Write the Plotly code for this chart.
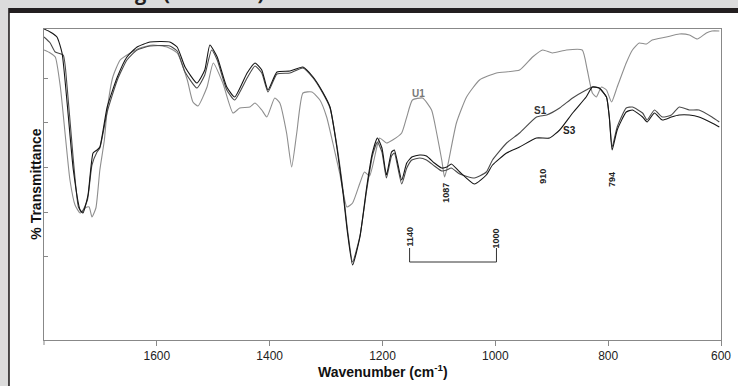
import plotly.graph_objects as go

# ---- data (wavenumber cm-1, transmittance in arbitrary units) ----
s3_wn = [1800, 1789, 1777, 1768, 1759, 1748, 1736, 1731, 1722, 1713, 1706, 1701, 1688, 1670, 1653, 1635,
         1612, 1577, 1564, 1550, 1529, 1515, 1506, 1493, 1476, 1462, 1440, 1426, 1414, 1403, 1387, 1364,
         1341, 1323, 1306, 1293, 1281, 1270, 1262, 1253, 1240, 1228, 1218, 1209, 1201, 1193, 1184, 1179,
         1166, 1157, 1148, 1134, 1122, 1108, 1095, 1086, 1078, 1063, 1037, 1016, 1005, 980, 957, 927,
         904, 886, 863, 839, 828, 816, 803, 798, 793, 784, 768, 757, 739, 731, 718, 704, 688, 674, 656,
         639, 616, 603]
s3_t = [311, 308, 303, 287, 237, 170, 130, 127, 145, 187, 190, 193, 233, 263, 283, 293,
        298, 298, 293, 273, 257, 270, 295, 283, 253, 243, 267, 277, 270, 250, 268, 269,
        273, 263, 248, 233, 193, 147, 107, 75, 103, 153, 187, 202, 192, 165, 188, 190,
        160, 177, 183, 185, 184, 177, 172, 173, 176, 168, 156, 165, 175, 187, 193, 202,
        202, 210, 227, 243, 253, 252, 243, 223, 190, 210, 228, 230, 223, 218, 227, 220, 223, 225, 225,
        223, 217, 213]

s1_wn = [1800, 1789, 1780, 1766, 1759, 1748, 1739, 1733, 1723, 1715, 1706, 1701, 1688, 1670, 1653, 1635,
         1612, 1577, 1564, 1550, 1529, 1515, 1503, 1493, 1476, 1462, 1440, 1426, 1414, 1403, 1387, 1364,
         1341, 1323, 1306, 1293, 1281, 1270, 1262, 1253, 1240, 1228, 1218, 1209, 1201, 1193, 1184, 1179,
         1166, 1157, 1148, 1134, 1122, 1108, 1095, 1086, 1078, 1063, 1037, 1016, 1005, 980, 957, 927,
         909, 886, 863, 839, 828, 816, 803, 798, 793, 784, 768, 757, 739, 731, 718, 704, 688, 674, 656,
         639, 616, 603]
s1_t = [303, 297, 288, 285, 253, 180, 133, 128, 140, 175, 188, 192, 228, 260, 280, 290,
        294, 294, 289, 268, 252, 265, 290, 280, 250, 240, 262, 274, 267, 248, 266, 267,
        272, 262, 247, 232, 195, 150, 110, 78, 104, 150, 184, 198, 188, 162, 184, 187,
        156, 172, 180, 182, 180, 174, 169, 170, 172, 166, 162, 168, 180, 197, 207, 223,
        225, 232, 242, 250, 253, 252, 243, 223, 193, 213, 232, 233, 227, 220, 230, 223, 225, 233, 230,
        230, 223, 218]

u1_wn = [1800, 1789, 1780, 1771, 1762, 1754, 1745, 1736, 1727, 1720, 1715, 1708, 1701, 1693, 1688, 1678,
         1665, 1647, 1630, 1607, 1582, 1564, 1546, 1536, 1527, 1511, 1500, 1483, 1465, 1453, 1435, 1426,
         1414, 1405, 1391, 1382, 1370, 1361, 1352, 1341, 1325, 1311, 1299, 1288, 1276, 1263, 1253, 1240,
         1232, 1223, 1210, 1205, 1193, 1182, 1166, 1157, 1147, 1129, 1113, 1104, 1095, 1090, 1085, 1069,
         1051, 1028, 998, 957, 934, 916, 899, 874, 846, 837, 828, 821, 812, 803, 794, 784, 768, 757,
         745, 732, 722, 697, 674, 656, 642, 626, 616, 603]
u1_t = [290, 287, 283, 253, 203, 160, 135, 127, 132, 133, 123, 132, 170, 200, 230, 263,
        280, 287, 292, 295, 293, 287, 260, 238, 234, 253, 277, 257, 227, 232, 233, 237,
        230, 223, 242, 237, 207, 173, 207, 247, 248, 240, 223, 197, 167, 133, 137, 157,
        168, 164, 193, 202, 197, 200, 207, 223, 240, 242, 230, 207, 180, 163, 173, 217,
        243, 260, 267, 270, 283, 290, 287, 290, 290, 270, 247, 243, 253, 250, 238, 253, 277, 290,
        297, 296, 300, 303, 306, 305, 301, 307, 309, 309]

x_ticks = [1600, 1400, 1200, 1000, 800, 600]
x_ticktext = ["1600", "1400", "1200", "1000", "800", "600"]

# ---------------------------------------------------------------------------------------
fig = go.Figure()
for wn, t, color, name in [(u1_wn, u1_t, "#8e8e8e", "U1"),
                           (s1_wn, s1_t, "#4a4a4a", "S1"),
                           (s3_wn, s3_t, "#151515", "S3")]:
    fig.add_trace(go.Scatter(x=wn, y=t, mode="lines", name=name, showlegend=False,
                             hoverinfo="skip",
                             line=dict(color=color, width=1.1, shape="spline", smoothing=0.5)))

axis_font = dict(family="Liberation Sans, Arial, sans-serif", size=12, color="#222")

fig.update_layout(
    width=738, height=386,
    margin=dict(l=44, r=17, t=29, b=46, autoexpand=False),
    paper_bgcolor="#dcdcdc",
    plot_bgcolor="white",
    font=axis_font,
    xaxis=dict(range=[1800, 600], tickvals=x_ticks, ticktext=x_ticktext, automargin=False,
               ticks="outside", ticklen=5, tickcolor="#888", tickwidth=1,
               showline=True, linecolor="#888", linewidth=1, mirror=True,
               showgrid=False, zeroline=False, tickfont=axis_font),
    yaxis=dict(range=[0, 311], tickvals=[84, 128, 173, 218, 262], automargin=False,
               ticks="inside", ticklen=4, tickcolor="#888",
               showticklabels=False, showline=True, linecolor="#888", linewidth=1,
               mirror=True, showgrid=False, zeroline=False),
)

# page panel (white card with dark top band and left edge)
fig.add_shape(type="rect", xref="paper", yref="paper", x0=-0.0506, x1=1.1, y0=-0.2, y1=1.0514,
              fillcolor="white", line_width=0, layer="below")
fig.add_shape(type="rect", xref="paper", yref="paper", x0=-0.0529, x1=1.1, y0=1.0514, y1=1.0675,
              fillcolor="#231f20", line_width=0, layer="below")
fig.add_shape(type="rect", xref="paper", yref="paper", x0=-0.0529, x1=-0.0506, y0=-0.2, y1=1.0514,
              fillcolor="#231f20", line_width=0, layer="below")
# end tick at 1800 (left edge of the axis)
fig.add_shape(type="line", xref="paper", yref="paper", x0=0, x1=0, y0=0, y1=-0.016,
              line=dict(color="#888", width=1))

# bracket 1140 - 1000
for x0, y0, x1, y1 in [(1152, 92, 1152, 78), (1152, 78, 998, 78), (998, 78, 998, 92)]:
    fig.add_shape(type="line", xref="x", yref="y", x0=x0, y0=y0, x1=x1, y1=y1,
                  line=dict(color="#333", width=1))

bold = "Liberation Sans, Arial, sans-serif"
ann = []
# axis titles
ann.append(dict(text="<b>Wavenumber (cm<sup>-1</sup>)</b>", xref="paper", yref="paper",
                x=0.5, y=-0.099, xanchor="center", yanchor="middle", showarrow=False,
                font=dict(family=bold, size=14, color="#111")))
ann.append(dict(text="<b>% Transmittance</b>", xref="paper", yref="paper",
                x=-0.0130, y=0.5, xanchor="center", yanchor="middle", showarrow=False,
                textangle=-90, font=dict(family=bold, size=14, color="#111")))
# curve labels
ann.append(dict(text="<b>U1</b>", x=1137, y=247, xref="x", yref="y", showarrow=False,
                font=dict(family=bold, size=10, color="#777")))
ann.append(dict(text="<b>S1</b>", x=920, y=230, xref="x", yref="y", showarrow=False,
                font=dict(family=bold, size=10, color="#333")))
ann.append(dict(text="<b>S3</b>", x=868, y=210, xref="x", yref="y", showarrow=False,
                font=dict(family=bold, size=10, color="#222")))
# band labels
for txt, xv, yv in [("1087", 1088, 147), ("910", 916, 164), ("794", 793, 160),
                    ("1140", 1152, 103), ("1000", 998, 102)]:
    ann.append(dict(text="<b>%s</b>" % txt, x=xv, y=yv, xref="x", yref="y", showarrow=False,
                    textangle=-90, font=dict(family=bold, size=9, color="#222")))
# page title, cut off at the top edge
ann.append(dict(text="<b>Infrared Coverage (FTIR-ATR)</b>", xref="paper", yref="paper",
                x=0.328, y=1.0675, xanchor="right", yanchor="bottom", showarrow=False,
                font=dict(family="Open Sans, sans-serif", size=20, color="#231f20")))
fig.update_layout(annotations=ann)

fig.write_html("out.html")
